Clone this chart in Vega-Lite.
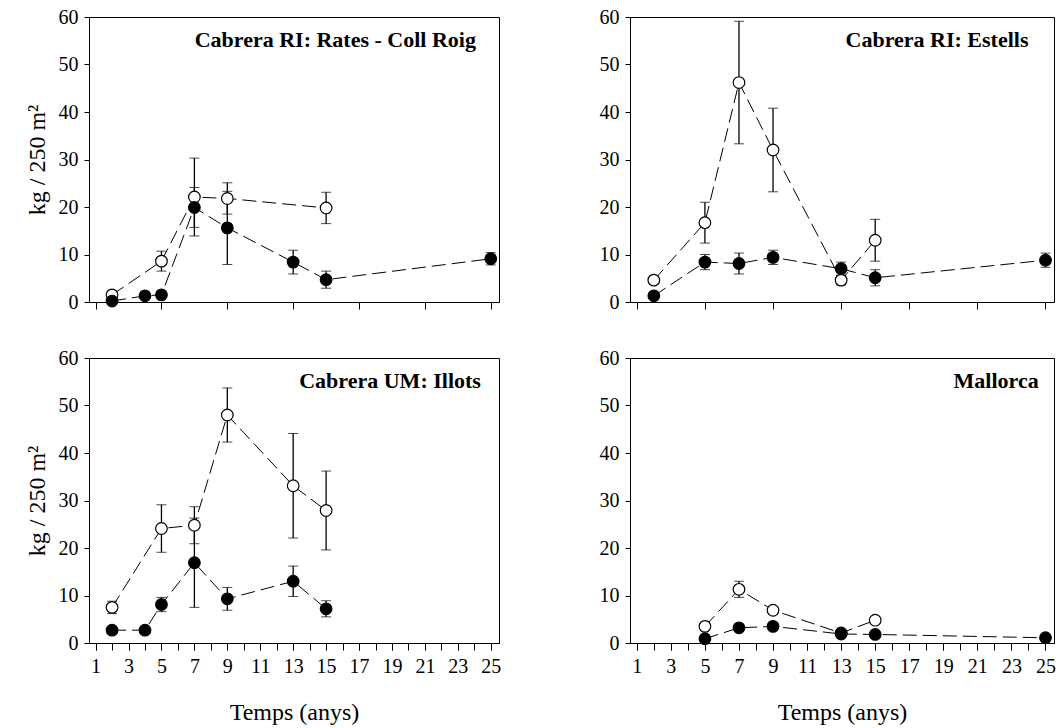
{
  "$schema": "https://vega.github.io/schema/vega-lite/v6.json",
  "padding": {"left": 24, "top": 6, "right": 5, "bottom": 5},
  "background": "white",
  "datasets": {
    "obs": [
      {"p": "A", "s": "open", "x": 2, "y": 1.5, "se": 0},
      {"p": "A", "s": "open", "x": 5, "y": 8.6, "se": 2.1},
      {"p": "A", "s": "open", "x": 7, "y": 22.1, "se": 8.2},
      {"p": "A", "s": "open", "x": 9, "y": 21.8, "se": 3.3},
      {"p": "A", "s": "open", "x": 15, "y": 19.8, "se": 3.3},
      {"p": "A", "s": "filled", "x": 2, "y": 0.2, "se": 0},
      {"p": "A", "s": "filled", "x": 4, "y": 1.3, "se": 0},
      {"p": "A", "s": "filled", "x": 5, "y": 1.5, "se": 0},
      {"p": "A", "s": "filled", "x": 7, "y": 19.9, "se": 4.2},
      {"p": "A", "s": "filled", "x": 9, "y": 15.6, "se": 7.7},
      {"p": "A", "s": "filled", "x": 13, "y": 8.4, "se": 2.5},
      {"p": "A", "s": "filled", "x": 15, "y": 4.7, "se": 1.8},
      {"p": "A", "s": "filled", "x": 25, "y": 9.1, "se": 1.3},

      {"p": "B", "s": "open", "x": 2, "y": 4.6, "se": 0},
      {"p": "B", "s": "open", "x": 5, "y": 16.7, "se": 4.3},
      {"p": "B", "s": "open", "x": 7, "y": 46.2, "se": 12.9},
      {"p": "B", "s": "open", "x": 9, "y": 32.0, "se": 8.8},
      {"p": "B", "s": "open", "x": 13, "y": 4.6, "se": 1.0},
      {"p": "B", "s": "open", "x": 15, "y": 13.0, "se": 4.4},
      {"p": "B", "s": "filled", "x": 2, "y": 1.3, "se": 0},
      {"p": "B", "s": "filled", "x": 5, "y": 8.4, "se": 1.6},
      {"p": "B", "s": "filled", "x": 7, "y": 8.1, "se": 2.2},
      {"p": "B", "s": "filled", "x": 9, "y": 9.4, "se": 1.5},
      {"p": "B", "s": "filled", "x": 13, "y": 7.0, "se": 1.4},
      {"p": "B", "s": "filled", "x": 15, "y": 5.1, "se": 1.7},
      {"p": "B", "s": "filled", "x": 25, "y": 8.8, "se": 1.5},

      {"p": "C", "s": "open", "x": 2, "y": 7.5, "se": 1.3},
      {"p": "C", "s": "open", "x": 5, "y": 24.1, "se": 5.0},
      {"p": "C", "s": "open", "x": 7, "y": 24.8, "se": 3.9},
      {"p": "C", "s": "open", "x": 9, "y": 48.0, "se": 5.7},
      {"p": "C", "s": "open", "x": 13, "y": 33.1, "se": 11.0},
      {"p": "C", "s": "open", "x": 15, "y": 27.9, "se": 8.3},
      {"p": "C", "s": "filled", "x": 2, "y": 2.7, "se": 0},
      {"p": "C", "s": "filled", "x": 4, "y": 2.7, "se": 0},
      {"p": "C", "s": "filled", "x": 5, "y": 8.1, "se": 1.5},
      {"p": "C", "s": "filled", "x": 7, "y": 16.9, "se": 9.4},
      {"p": "C", "s": "filled", "x": 9, "y": 9.3, "se": 2.4},
      {"p": "C", "s": "filled", "x": 13, "y": 13.0, "se": 3.2},
      {"p": "C", "s": "filled", "x": 15, "y": 7.2, "se": 1.7},

      {"p": "D", "s": "open", "x": 5, "y": 3.5, "se": 0},
      {"p": "D", "s": "open", "x": 7, "y": 11.3, "se": 1.7},
      {"p": "D", "s": "open", "x": 9, "y": 6.9, "se": 0.8},
      {"p": "D", "s": "open", "x": 13, "y": 2.1, "se": 0},
      {"p": "D", "s": "open", "x": 15, "y": 4.8, "se": 0},
      {"p": "D", "s": "filled", "x": 5, "y": 0.9, "se": 0},
      {"p": "D", "s": "filled", "x": 7, "y": 3.2, "se": 0},
      {"p": "D", "s": "filled", "x": 9, "y": 3.5, "se": 0},
      {"p": "D", "s": "filled", "x": 13, "y": 1.9, "se": 0},
      {"p": "D", "s": "filled", "x": 15, "y": 1.8, "se": 0},
      {"p": "D", "s": "filled", "x": 25, "y": 1.1, "se": 0}
    ]
  },
  "columns": 2,
  "spacing": {"row": 34, "column": 96},
  "concat": [
    {
      "width": 410, "height": 285,
      "data": {"name": "obs"},
      "transform": [{"filter": "datum.p == 'A'"}],
      "layer": [
        {"mark": {"type": "line", "color": "black", "strokeWidth": 1, "strokeDash": [14, 6]},
         "encoding": {
           "x": {"field": "x", "type": "quantitative", "title": null, "scale": {"domain": [0.6, 25.5], "nice": false, "zero": false},
                 "axis": {"values": [1,2,3,4,5,6,7,8,9,10,11,12,13,14,15,16,17,18,19,20,21,22,23,24,25], "labels": false, "tickSize": 7}},
           "y": {"field": "y", "type": "quantitative", "title": "kg / 250 m²", "scale": {"domain": [0, 60], "nice": false},
                 "axis": {"values": [0,10,20,30,40,50,60], "tickSize": 5}},
           "detail": {"field": "s"}}},
        {"transform": [{"filter": "datum.se > 0"}],
         "mark": {"type": "errorbar", "color": "black", "ticks": {"size": 10, "color": "black"}, "rule": {"strokeWidth": 1.3}},
         "encoding": {"x": {"field": "x", "type": "quantitative", "title": null}, "y": {"field": "y", "type": "quantitative", "title": "kg / 250 m²"}, "yError": {"field": "se"}}},
        {"mark": {"type": "point", "size": 135, "stroke": "black", "strokeWidth": 1.2, "opacity": 1, "fillOpacity": 1},
         "encoding": {"x": {"field": "x", "type": "quantitative", "title": null}, "y": {"field": "y", "type": "quantitative", "title": "kg / 250 m²"},
           "fill": {"field": "s", "type": "nominal", "scale": {"domain": ["filled", "open"], "range": ["black", "white"]}, "legend": null}}},
        {"data": {"values": [{"label": "Cabrera RI: Rates - Coll Roig"}]},
         "mark": {"type": "text", "align": "right", "baseline": "middle", "fontWeight": "bold", "fontSize": 22, "font": "Liberation Serif", "color": "black"},
         "encoding": {"x": {"datum": 24.1}, "y": {"datum": 55.2}, "text": {"field": "label"}}}
      ]
    },
    {
      "width": 424, "height": 285,
      "data": {"name": "obs"},
      "transform": [{"filter": "datum.p == 'B'"}],
      "layer": [
        {"mark": {"type": "line", "color": "black", "strokeWidth": 1, "strokeDash": [14, 6]},
         "encoding": {
           "x": {"field": "x", "type": "quantitative", "title": null, "scale": {"domain": [0.6, 25.5], "nice": false, "zero": false},
                 "axis": {"values": [1,2,3,4,5,6,7,8,9,10,11,12,13,14,15,16,17,18,19,20,21,22,23,24,25], "labels": false, "tickSize": 7}},
           "y": {"field": "y", "type": "quantitative", "title": null, "scale": {"domain": [0, 60], "nice": false},
                 "axis": {"values": [0,10,20,30,40,50,60], "tickSize": 5}},
           "detail": {"field": "s"}}},
        {"transform": [{"filter": "datum.se > 0"}],
         "mark": {"type": "errorbar", "color": "black", "ticks": {"size": 10, "color": "black"}, "rule": {"strokeWidth": 1.3}},
         "encoding": {"x": {"field": "x", "type": "quantitative", "title": null}, "y": {"field": "y", "type": "quantitative", "title": null}, "yError": {"field": "se"}}},
        {"mark": {"type": "point", "size": 135, "stroke": "black", "strokeWidth": 1.2, "opacity": 1, "fillOpacity": 1},
         "encoding": {"x": {"field": "x", "type": "quantitative", "title": null}, "y": {"field": "y", "type": "quantitative", "title": null},
           "fill": {"field": "s", "type": "nominal", "scale": {"domain": ["filled", "open"], "range": ["black", "white"]}, "legend": null}}},
        {"data": {"values": [{"label": "Cabrera RI: Estells"}]},
         "mark": {"type": "text", "align": "right", "baseline": "middle", "fontWeight": "bold", "fontSize": 22, "font": "Liberation Serif", "color": "black"},
         "encoding": {"x": {"datum": 24.0}, "y": {"datum": 55.2}, "text": {"field": "label"}}}
      ]
    },
    {
      "width": 410, "height": 285,
      "data": {"name": "obs"},
      "transform": [{"filter": "datum.p == 'C'"}],
      "resolve": {"scale": {"x": "shared"}, "axis": {"x": "independent"}},
      "layer": [
        {"mark": {"type": "line", "color": "black", "strokeWidth": 1, "strokeDash": [14, 6]},
         "encoding": {
           "x": {"field": "x", "type": "quantitative", "title": null, "scale": {"domain": [0.6, 25.5], "nice": false, "zero": false},
                 "axis": {"orient": "bottom", "values": [1,2,3,4,5,6,7,8,9,10,11,12,13,14,15,16,17,18,19,20,21,22,23,24,25], "labels": false, "tickSize": 7}},
           "y": {"field": "y", "type": "quantitative", "title": "kg / 250 m²", "scale": {"domain": [0, 60], "nice": false},
                 "axis": {"values": [0,10,20,30,40,50,60], "tickSize": 5}},
           "detail": {"field": "s"}}},
        {"transform": [{"filter": "datum.se > 0"}],
         "mark": {"type": "errorbar", "color": "black", "ticks": {"size": 10, "color": "black"}, "rule": {"strokeWidth": 1.3}},
         "encoding": {"x": {"field": "x", "type": "quantitative", "axis": null}, "y": {"field": "y", "type": "quantitative", "title": "kg / 250 m²"}, "yError": {"field": "se"}}},
        {"mark": {"type": "point", "size": 135, "stroke": "black", "strokeWidth": 1.2, "opacity": 1, "fillOpacity": 1},
         "encoding": {"x": {"field": "x", "type": "quantitative", "title": "Temps (anys)",
                            "axis": {"orient": "bottom", "values": [1,3,5,7,9,11,13,15,17,19,21,23,25], "tickSize": 7}},
           "y": {"field": "y", "type": "quantitative", "title": "kg / 250 m²"},
           "fill": {"field": "s", "type": "nominal", "scale": {"domain": ["filled", "open"], "range": ["black", "white"]}, "legend": null}}},
        {"data": {"values": [{"label": "Cabrera UM: Illots"}]},
         "mark": {"type": "text", "align": "right", "baseline": "middle", "fontWeight": "bold", "fontSize": 22, "font": "Liberation Serif", "color": "black"},
         "encoding": {"x": {"datum": 24.4, "axis": null}, "y": {"datum": 55.2}, "text": {"field": "label"}}}
      ]
    },
    {
      "width": 424, "height": 285,
      "data": {"name": "obs"},
      "transform": [{"filter": "datum.p == 'D'"}],
      "resolve": {"scale": {"x": "shared"}, "axis": {"x": "independent"}},
      "layer": [
        {"mark": {"type": "line", "color": "black", "strokeWidth": 1, "strokeDash": [14, 6]},
         "encoding": {
           "x": {"field": "x", "type": "quantitative", "title": null, "scale": {"domain": [0.6, 25.5], "nice": false, "zero": false},
                 "axis": {"orient": "bottom", "values": [1,2,3,4,5,6,7,8,9,10,11,12,13,14,15,16,17,18,19,20,21,22,23,24,25], "labels": false, "tickSize": 7}},
           "y": {"field": "y", "type": "quantitative", "title": null, "scale": {"domain": [0, 60], "nice": false},
                 "axis": {"values": [0,10,20,30,40,50,60], "tickSize": 5}},
           "detail": {"field": "s"}}},
        {"transform": [{"filter": "datum.se > 0"}],
         "mark": {"type": "errorbar", "color": "black", "ticks": {"size": 10, "color": "black"}, "rule": {"strokeWidth": 1.3}},
         "encoding": {"x": {"field": "x", "type": "quantitative", "axis": null}, "y": {"field": "y", "type": "quantitative", "title": null}, "yError": {"field": "se"}}},
        {"mark": {"type": "point", "size": 135, "stroke": "black", "strokeWidth": 1.2, "opacity": 1, "fillOpacity": 1},
         "encoding": {"x": {"field": "x", "type": "quantitative", "title": "Temps (anys)",
                            "axis": {"orient": "bottom", "values": [1,3,5,7,9,11,13,15,17,19,21,23,25], "tickSize": 7}},
           "y": {"field": "y", "type": "quantitative", "title": null},
           "fill": {"field": "s", "type": "nominal", "scale": {"domain": ["filled", "open"], "range": ["black", "white"]}, "legend": null}}},
        {"data": {"values": [{"label": "Mallorca"}]},
         "mark": {"type": "text", "align": "right", "baseline": "middle", "fontWeight": "bold", "fontSize": 22, "font": "Liberation Serif", "color": "black"},
         "encoding": {"x": {"datum": 24.6, "axis": null}, "y": {"datum": 55.2}, "text": {"field": "label"}}}
      ]
    }
  ],
  "config": {
    "font": "Liberation Serif",
    "view": {"stroke": "black", "strokeWidth": 1},
    "axis": {
      "grid": false,
      "domainColor": "black",
      "tickColor": "black",
      "labelColor": "black",
      "labelFont": "Liberation Serif",
      "labelFontSize": 20,
      "labelPadding": 6,
      "titleFont": "Liberation Serif",
      "titleFontWeight": "normal",
      "titleColor": "black",
      "titleFontSize": 24
    },
    "axisY": {"titlePadding": 9},
    "axisX": {"titlePadding": 24}
  }
}
